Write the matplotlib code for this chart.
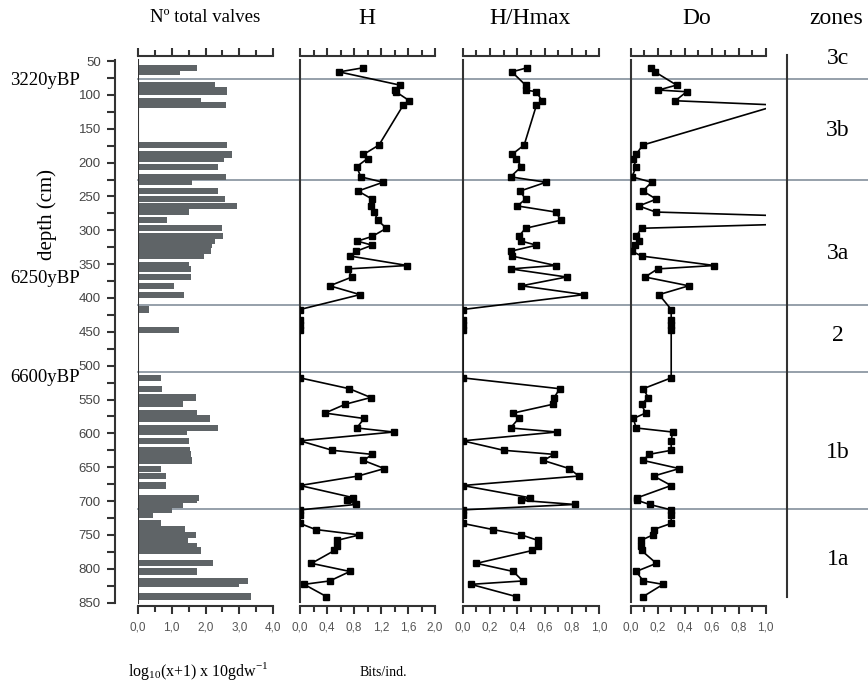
import matplotlib
matplotlib.use('Agg')
import matplotlib.pyplot as plt
from matplotlib.ticker import MultipleLocator, FuncFormatter
from matplotlib.lines import Line2D
from matplotlib.transforms import blended_transform_factory

plt.rcParams['font.family'] = 'Liberation Sans'
plt.rcParams['mathtext.fontset'] = 'custom'
plt.rcParams['mathtext.rm'] = 'Liberation Serif'

# sample depths (cm)
depth = [60, 66, 85.5, 92.8, 95.3, 108.6, 115, 174, 188, 194, 206, 221, 229,
         242, 254, 264, 273, 285, 297, 309, 316, 322, 331, 338, 352, 357, 369,
         382, 395, 417, 433, 440, 447, 518, 534, 547, 557, 570, 578, 592, 598,
         611, 625, 631, 640, 652, 663, 677, 695, 699, 705, 713, 720, 733, 742,
         750, 758, 766, 773, 792, 804, 818, 823, 841]

# log10(x+1) of total valves per 10 g dry weight
valves = [1.74, 1.26, 2.27, 2.62, 2.62, 1.87, 2.61, 2.64, 2.77, 2.54, 2.38, 2.61, 1.61,
          2.38, 2.57, 2.92, 1.50, 0.87, 2.48, 2.53, 2.27, 2.19, 2.17, 1.96, 1.50, 1.57, 1.57,
          1.07, 1.37, 0.34, 0.05, 0.0, 1.23, 0.69, 0.73, 1.72, 1.33, 1.75, 2.13, 2.38, 1.45,
          1.50, 1.54, 1.58, 1.61, 0.69, 0.83, 0.83, 1.82, 1.74, 1.33, 1.0, 0.44, 0.69, 1.40,
          1.72, 1.47, 1.74, 1.86, 2.23, 1.74, 3.24, 3.0, 3.33]

# Shannon diversity (bits/ind.)
h_div = [0.93, 0.58, 1.48, 1.40, 1.42, 1.62, 1.53, 1.17, 0.94, 1.00, 0.84, 0.90, 1.23,
         0.86, 1.07, 1.05, 1.10, 1.15, 1.28, 1.07, 0.85, 1.07, 0.83, 0.74, 1.59, 0.71, 0.77,
         0.44, 0.89, 0, 0, 0, 0, 0, 0.73, 1.05, 0.67, 0.37, 0.95, 0.84, 1.39,
         0, 0.48, 1.07, 0.94, 1.25, 0.86, 0, 0.79, 0.69, 0.83, 0, 0, 0, 0.23,
         0.88, 0.55, 0.55, 0.51, 0.17, 0.74, 0.44, 0.06, 0.39]

# evenness
h_hmax = [0.47, 0.36, 0.46, 0.46, 0.54, 0.58, 0.54, 0.45, 0.36, 0.39, 0.43, 0.35, 0.61,
          0.42, 0.46, 0.40, 0.68, 0.72, 0.46, 0.41, 0.43, 0.54, 0.35, 0.36, 0.68, 0.35, 0.76,
          0.43, 0.89, 0, 0, 0, 0, 0, 0.71, 0.67, 0.66, 0.37, 0.41, 0.35, 0.69,
          0, 0.30, 0.67, 0.59, 0.78, 0.85, 0, 0.49, 0.43, 0.82, 0, 0, 0, 0.22,
          0.43, 0.55, 0.55, 0.51, 0.10, 0.37, 0.44, 0.06, 0.39]

# dominance
do_idx = [0.15, 0.18, 0.34, 0.205, 0.415, 0.33, 1.09, 0.09, 0.04, 0.015, 0.04, 0.01, 0.155,
          0.09, 0.19, 0.06, 0.185, 2.2, 0.08, 0.04, 0.06, 0.03, 0.01, 0.08, 0.62, 0.20, 0.106,
          0.43, 0.21, 0.30, 0.30, 0.30, 0.30, 0.30, 0.093, 0.13, 0.08, 0.11, 0.02, 0.04, 0.31,
          0.30, 0.30, 0.135, 0.093, 0.36, 0.17, 0.30, 0.05, 0.05, 0.14, 0.30, 0.30, 0.30, 0.17,
          0.165, 0.076, 0.076, 0.08, 0.19, 0.04, 0.093, 0.24, 0.093]

zone_bounds = [77, 226, 410, 510, 711]
zone_names = ['3c', '3b', '3a', '2', '1b', '1a']
zone_mid = [46, 152, 334, 455, 628, 786]
ages = ['3220yBP', '6250yBP', '6600yBP']
age_depth = [78, 371, 518]

W, H = 868, 687
YLIM = (855, 42.5)
fig = plt.figure(figsize=(W / 100, H / 100), dpi=100)


def box(x0, x1):
    return [x0 / W, 1 - 606 / H, (x1 - x0) / W, 550 / H]


def comma(v, pos):
    return f"{v:.1f}".replace('.', ',')


def style(ax, xmax, major, minor):
    ax.set_xlim(0, xmax)
    ax.set_ylim(*YLIM)
    ax.patch.set_visible(False)
    ax.spines['right'].set_visible(False)
    for s in ['top', 'bottom', 'left']:
        ax.spines[s].set_color('#333333')
        ax.spines[s].set_linewidth(1.5)
    ax.spines['left'].set_bounds(849, 48.5)
    ax.xaxis.set_major_locator(MultipleLocator(major))
    ax.xaxis.set_minor_locator(MultipleLocator(minor))
    ax.xaxis.set_major_formatter(FuncFormatter(comma))
    ax.tick_params(axis='x', which='both', top=True, bottom=True, direction='out',
                   labelsize=8.5, labelcolor='#555555', color='#333333', width=1.5, pad=5)
    ax.tick_params(axis='x', which='major', length=6)
    ax.tick_params(axis='x', which='minor', length=4)
    ax.tick_params(axis='y', which='both', left=False, labelleft=False)


# valves bars + depth axis
ax0 = fig.add_axes(box(137.7, 273.3))
style(ax0, 4, 1, 0.5)
ax0.barh(depth[::-1], valves[::-1], height=9, color='#5f6467')
ax0.axvline(0, ymin=(YLIM[0] - 850) / (YLIM[0] - YLIM[1]),
            ymax=(YLIM[0] - 48.5) / (YLIM[0] - YLIM[1]), color='#333333', lw=1.5)
ax0.spines['left'].set_position(('outward', 16.5))
ax0.spines['left'].set_bounds(850, 48.5)
ax0.yaxis.set_major_locator(MultipleLocator(50))
ax0.yaxis.set_minor_locator(MultipleLocator(25))
ax0.set_yticks(range(50, 851, 50))
ax0.tick_params(axis='y', which='both', left=True, labelleft=True, direction='out',
                length=6, width=1.5, color='#333333', labelsize=9.5,
                labelcolor='#444444', pad=4)

curves = [(h_div, (300, 435), 2.0, 0.4, 0.2),
          (h_hmax, (462.7, 599.3), 1.0, 0.2, 0.1),
          (do_idx, (630.7, 765.7), 1.0, 0.2, 0.1)]
for vals, (x0, x1), xmax, major, minor in curves:
    ax = fig.add_axes(box(x0, x1))
    style(ax, xmax, major, minor)
    ax.plot(vals, depth, color='black', lw=1.2, marker='s', ms=4.2, mfc='black',
            mec='black', zorder=3)

# zone boundaries across all panels
tr = blended_transform_factory(fig.transFigure, ax0.transData)
for d in zone_bounds:
    fig.add_artist(Line2D([138 / W, 1.0], [d, d], transform=tr, color='#8e99a4',
                          lw=1.3, zorder=-1))
fig.add_artist(Line2D([786.7 / W] * 2, [1 - 55 / H, 1 - 597 / H], color='#333333', lw=1.5))
for name, d in zip(zone_names, zone_mid):
    fig.text(838 / W, d, name, transform=tr, ha='center', va='center',
             family='Liberation Serif', fontsize=17)
for name, d in zip(ages, age_depth):
    fig.text(45 / W, d, name, transform=tr, ha='center', va='center',
             family='Liberation Serif', fontsize=13.5)

serif = dict(family='Liberation Serif', ha='center', va='center')
fig.text(205 / W, 1 - 18 / H, 'Nº total valves', fontsize=13.5, **serif)
fig.text(367 / W, 1 - 18 / H, 'H', fontsize=17, **serif)
fig.text(530 / W, 1 - 18 / H, 'H/Hmax', fontsize=17, **serif)
fig.text(697 / W, 1 - 18 / H, 'Do', fontsize=17, **serif)
fig.text(836 / W, 1 - 18 / H, 'zones', fontsize=17, **serif)
fig.text(47 / W, 1 - 215 / H, 'depth (cm)', rotation=90, fontsize=15, **serif)
fig.text(198 / W, 1 - 671 / H, r'log$_{10}$(x+1) x 10gdw$^{\mathrm{-1}}$', fontsize=11.5, **serif)
fig.text(383 / W, 1 - 672 / H, 'Bits/ind.', fontsize=10, **serif)

fig.savefig('out.png', dpi=100, facecolor='white')
